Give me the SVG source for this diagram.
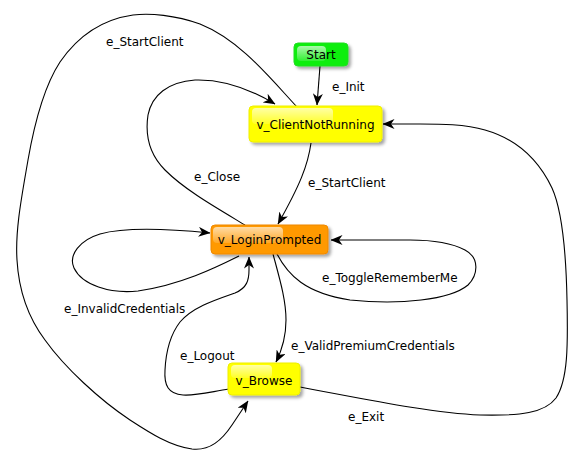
<svg xmlns="http://www.w3.org/2000/svg" width="584" height="465" viewBox="0 0 584 465">
<style>
  text { font-family: "DejaVu Sans", "Liberation Sans", sans-serif; font-size: 12px; fill: #000; }
  .lbl { text-anchor: middle; }
  .edge { fill: none; stroke: #000; stroke-width: 1.1; marker-end: url(#arrow); }
  .edge.plain { marker-end: none; }
  .gloss { fill: url(#gloss); }
</style>
<defs>
  <marker id="arrow" markerUnits="userSpaceOnUse" viewBox="0 0 12 10" refX="11.5" refY="5" markerWidth="12" markerHeight="10" orient="auto">
    <path d="M0,0 L12,5 L0,10 L3.5,5 z" fill="#000"/>
  </marker>
  <filter id="shadow" x="-20%" y="-30%" width="150%" height="180%">
    <feDropShadow dx="2.5" dy="2.5" stdDeviation="1.5" flood-color="#000" flood-opacity="0.35"/>
  </filter>
  <linearGradient id="gloss" x1="0" y1="0" x2="0" y2="1">
    <stop offset="0" stop-color="#fff" stop-opacity="0.65"/>
    <stop offset="1" stop-color="#fff" stop-opacity="0.15"/>
  </linearGradient>
</defs>

<g id="connectors">
  <!-- e_Init -->
  <path class="edge" d="M320,66 L317,105"/>
  <!-- e_StartClient big loop -->
  <path class="edge" d="M297,107 C270,78 240,40 200,24 C175,15 150,13 133,15 C105,19 80,33 60,62 C45,85 35,120 28,160 C22,195 15,230 17,260 C19,295 30,320 45,340 C65,368 100,400 130,420 C150,433 170,446 192,449 C210,451 222,440 232,425 L248,401"/>
  <!-- e_Close -->
  <path class="edge" d="M245,225 C215,207 185,190 165,170 C150,155 145,135 148,115 C152,95 168,82 195,80 C225,79 255,92 275,104"/>
  <!-- e_StartClient mid -->
  <path class="edge" d="M311,143 C308,165 300,185 278,224"/>
  <!-- e_ToggleRememberMe -->
  <path class="edge" d="M277,254 C288,275 305,293 350,300 C400,305 450,300 468,285 C478,275 480,258 465,250 C450,242 430,240 410,240 L331,240"/>
  <!-- e_ValidPremiumCredentials -->
  <path class="edge" d="M273,254 C280,280 286,300 286,320 C286,335 283,348 276,362"/>
  <!-- e_Exit -->
  <path class="edge" d="M300,387 C360,398 430,413 480,415 C520,416 545,413 556,398 C568,380 568,345 567,300 C566,250 562,210 552,188 C540,163 520,140 485,130 C465,124 440,124 420,124 L383,124"/>
  <!-- e_InvalidCredentials -->
  <path class="edge" d="M239,256 C215,268 180,285 138,291 C110,294 82,285 74,268 C68,255 80,240 100,234 C125,227 170,229 210,233"/>
  <!-- e_Logout -->
  <path class="edge" d="M229,389 C210,392 195,396 183,395 C168,394 164,385 165,370 C166,350 170,335 180,322 C193,307 215,300 235,293 C247,288 249,280 249,270 L249,257"/>

  <text x="106" y="46">e_StartClient</text>
  <text x="332" y="91">e_Init</text>
  <text x="194" y="181">e_Close</text>
  <text x="308" y="187">e_StartClient</text>
  <text x="322" y="282">e_ToggleRememberMe</text>
  <text x="64" y="313">e_InvalidCredentials</text>
  <text x="180" y="360">e_Logout</text>
  <text x="291" y="350">e_ValidPremiumCredentials</text>
  <text x="348" y="421">e_Exit</text>
</g>

<g id="Start">
  <rect x="294" y="43" width="54" height="23" rx="4" fill="#11ee11" stroke="#22dd22" stroke-width="1" filter="url(#shadow)"/>
  <rect class="gloss" x="297" y="46" width="29" height="15" rx="4"/>
  <text class="lbl" x="321" y="59">Start</text>
</g>

<g id="v_ClientNotRunning">
  <rect x="249" y="106" width="133" height="36" rx="4" fill="#ffff00" stroke="#eeee00" stroke-width="1" filter="url(#shadow)"/>
  <rect class="gloss" x="252" y="108" width="81" height="16" rx="4"/>
  <text class="lbl" x="315.5" y="129">v_ClientNotRunning</text>
</g>

<g id="v_LoginPrompted">
  <rect x="211" y="225" width="117" height="29" rx="4" fill="#ff9900" stroke="#ee8800" stroke-width="1" filter="url(#shadow)"/>
  <rect class="gloss" x="213" y="227" width="70" height="16" rx="4"/>
  <text class="lbl" x="269.5" y="244">v_LoginPrompted</text>
</g>

<g id="v_Browse">
  <rect x="228" y="363" width="72" height="32" rx="4" fill="#ffff00" stroke="#eeee00" stroke-width="1" filter="url(#shadow)"/>
  <rect class="gloss" x="231" y="365" width="41" height="13" rx="4"/>
  <text class="lbl" x="264" y="385">v_Browse</text>
</g>
</svg>
